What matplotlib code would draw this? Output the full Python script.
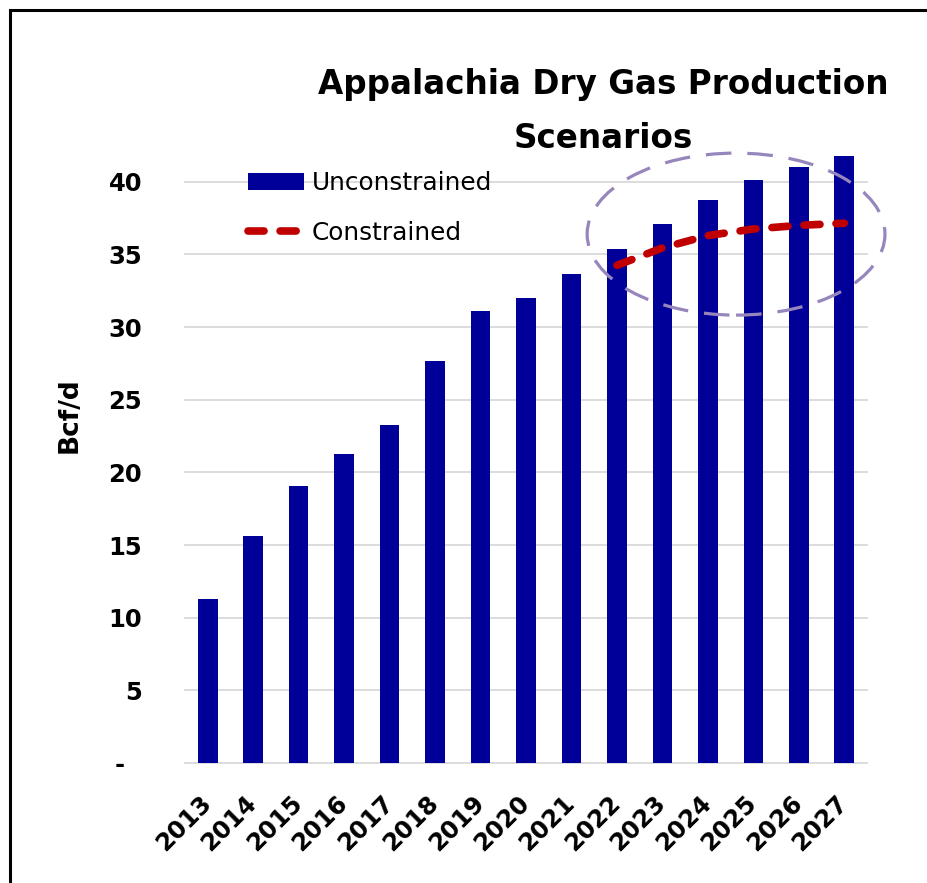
import matplotlib
matplotlib.use("Agg")
import matplotlib.pyplot as plt
import matplotlib.transforms as mtransforms
from matplotlib.patches import Ellipse, Rectangle, Patch
from matplotlib.lines import Line2D

# ---- data ----
years = ["2013", "2014", "2015", "2016", "2017", "2018", "2019", "2020",
         "2021", "2022", "2023", "2024", "2025", "2026", "2027"]
unconstrained = [11.3, 15.6, 19.05, 21.3, 23.25, 27.7, 31.1, 32.0,
                 33.65, 35.35, 37.1, 38.75, 40.1, 41.0, 41.75]
constrained_years = ["2022", "2023", "2024", "2025", "2026", "2027"]
constrained = [34.25, 35.45, 36.3, 36.75, 37.0, 37.15]
y_ticks = [0, 5, 10, 15, 20, 25, 30, 35, 40]
y_tick_labels = ["-  ", "5", "10", "15", "20", "25", "30", "35", "40"]

title_line1 = "Appalachia Dry Gas Production"
title_line2 = "Scenarios"
y_label = "Bcf/d"

BAR_COLOR = "#000099"
LINE_COLOR = "#C00000"
ELLIPSE_COLOR = "#9686BC"
GRID_COLOR = "#D9D9D9"

plt.rcParams["font.family"] = ["DejaVu Sans"]

W, H = 927, 883
fig = plt.figure(figsize=(W / 100, H / 100), dpi=100)
fig.patch.set_facecolor("white")

ax = fig.add_axes([185 / W, 1 - 763 / H, (867 - 185) / W, (763 - 109.15) / H])

x = list(range(len(years)))
ax.bar(x, unconstrained, width=0.43, color=BAR_COLOR, zorder=3,
       label="Unconstrained")

cx = [years.index(y) for y in constrained_years]
ax.plot(cx, constrained, color=LINE_COLOR, lw=5.5, dashes=(2.1, 2.1),
        dash_capstyle="round", solid_capstyle="round", zorder=4,
        label="Constrained")

ax.set_xlim(-0.5, len(years) - 0.5)
ax.set_ylim(0, 45)
ax.set_yticks(y_ticks)
ax.set_yticklabels(y_tick_labels)
ax.set_xticks(x)
ax.set_xticklabels(years, rotation=45, ha="right")

for s in ax.spines.values():
    s.set_visible(False)
ax.tick_params(axis="both", length=0)
ax.tick_params(axis="y", pad=31)
ax.tick_params(axis="x", pad=20)
ax.yaxis.grid(True, color=GRID_COLOR, lw=1.3, zorder=0)
ax.set_axisbelow(True)
for gl in ax.get_ygridlines():
    gl.set_clip_on(False)

for lab in ax.get_yticklabels() + ax.get_xticklabels():
    lab.set_fontsize(17.5)
    lab.set_fontweight("bold")
off = mtransforms.ScaledTranslation(6 / 72, 0, fig.dpi_scale_trans)
for lab in ax.get_xticklabels():
    lab.set_transform(lab.get_transform() + off)

# highlight ellipse around constrained period
ell = Ellipse((11.62, 36.4), width=6.55, height=11.15, fill=False,
              edgecolor=ELLIPSE_COLOR, lw=2.3, linestyle=(0, (8, 5)),
              clip_on=False, zorder=5)
ax.add_patch(ell)

# titles and labels
fig.text(603 / W, 1 - 94 / H, title_line1, ha="center", va="baseline",
         fontsize=23.5, fontweight="bold")
fig.text(603 / W, 1 - 148 / H, title_line2, ha="center", va="baseline",
         fontsize=23.5, fontweight="bold")
fig.text(70 / W, 1 - 415 / H, y_label, rotation=90, ha="center",
         va="center", fontsize=19, fontweight="bold")

# legend
handles = [Patch(facecolor=BAR_COLOR, edgecolor="none"),
           Line2D([], [], color=LINE_COLOR, lw=5.5, dashes=(2.1, 2.1),
                  dash_capstyle="round")]
leg = ax.legend(handles, ["Unconstrained", "Constrained"],
                loc="upper left", bbox_to_anchor=(248 / W, 1 - 171 / H),
                bbox_transform=fig.transFigure, frameon=False,
                fontsize=17.8, handlelength=2.27, handleheight=0.69,
                handletextpad=0.32, labelspacing=1.05, borderpad=0,
                borderaxespad=0)

# outer frame
fig.patches.append(Rectangle((10 / W, -0.05), 1.1, 1 - 10 / H + 0.05,
                             transform=fig.transFigure, fill=False,
                             edgecolor="black", lw=2.2, zorder=10))

fig.savefig("out.png", dpi=100, facecolor="white")
